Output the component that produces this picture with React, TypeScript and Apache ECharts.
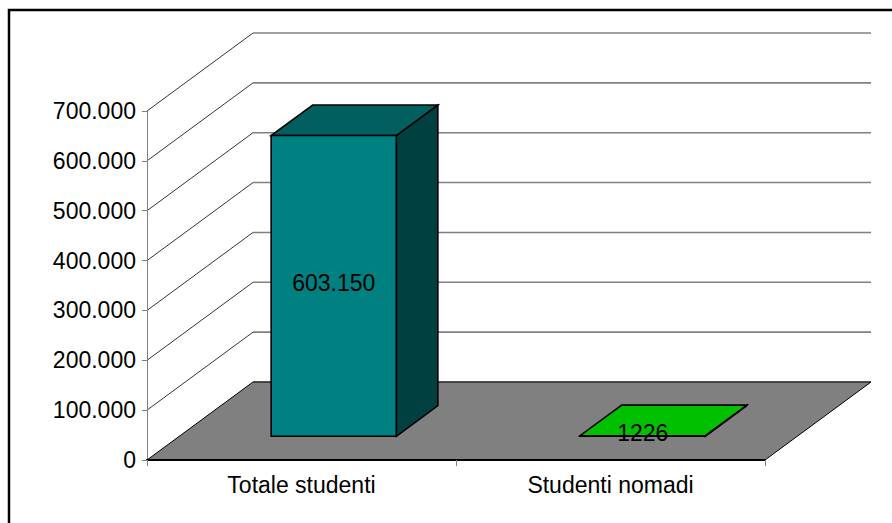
import React, { useEffect, useRef } from "react";
import * as echarts from "echarts";

const categories = ["Totale studenti", "Studenti nomadi"];
const values = [603150, 1226];
const valueLabels = ["603.150", "1226"];
const frontColors = ["#008080", "#00C000"];
const topColors = ["#006060", "#00C000"];
const sideColors = ["#004040", "#006000"];
const yTicks = [0, 100000, 200000, 300000, 400000, 500000, 600000, 700000];

const DEPTH = [106, -78];
const F0 = 0.304;
const F1 = 0.696;
const BAR_RATIO = 0.405;
const FONT = "Liberation Sans, Arial, sans-serif";
const FS = 23;

function fmtThousands(v: number): string {
  return String(v).replace(/\B(?=(\d{3})+(?!\d))/g, ".");
}

export default function App() {
  const ref = useRef<HTMLDivElement>(null);
  useEffect(() => {
    if (!ref.current) return;
    const chart = echarts.init(ref.current, undefined, { renderer: "svg" });
    const option: any = {
      animation: false,
      backgroundColor: "#ffffff",
      graphic: [
        {
          type: "rect",
          shape: { x: 9, y: 10, width: 1000, height: 1000 },
          style: { fill: "none", stroke: "#000", lineWidth: 2.5 },
          silent: true,
          z: 100,
        },
      ],
      grid: { left: 147, right: 127, top: 111, bottom: 63 },
      xAxis: {
        type: "category",
        data: categories,
        boundaryGap: true,
        z: 10,
        axisLine: { show: true, lineStyle: { color: "#000", width: 2 } },
        axisTick: { show: true, length: 6, alignWithLabel: false, lineStyle: { color: "#808080", width: 1 } },
        axisLabel: { fontSize: FS, color: "#000", fontFamily: FONT, margin: 13 },
        splitLine: { show: false },
      },
      yAxis: {
        type: "value",
        min: 0,
        max: 700000,
        interval: 100000,
        z: 10,
        axisLine: { show: true, lineStyle: { color: "#808080", width: 1 } },
        axisTick: { show: true, length: 5, lineStyle: { color: "#808080", width: 1 } },
        axisLabel: {
          fontSize: FS,
          color: "#000",
          fontFamily: FONT,
          margin: 11,
          formatter: (v: number) => fmtThousands(v),
        },
        splitLine: { show: false },
      },
      series: [
        {
          type: "custom",
          name: "walls",
          z: 1,
          silent: true,
          data: [[0, 0]],
          renderItem: (params: any, api: any) => {
            const cs = params.coordSys;
            const xl = cs.x;
            const xr = cs.x + cs.width;
            const children: any[] = [];
            yTicks.forEach((t) => {
              const y = api.coord([0, t])[1];
              if (t !== 0) {
                children.push({
                  type: "line",
                  shape: { x1: xl, y1: y, x2: xl + DEPTH[0], y2: y + DEPTH[1] },
                  style: { stroke: "#000", lineWidth: 0.8 },
                });
              }
              children.push({
                type: "line",
                shape: { x1: xl + DEPTH[0], y1: y + DEPTH[1], x2: xr + DEPTH[0], y2: y + DEPTH[1] },
                style: { stroke: "#808080", lineWidth: 1.6 },
              });
            });
            const y0 = api.coord([0, 0])[1];
            children.push({
              type: "polygon",
              shape: {
                points: [
                  [xl, y0],
                  [xr, y0],
                  [xr + DEPTH[0], y0 + DEPTH[1]],
                  [xl + DEPTH[0], y0 + DEPTH[1]],
                ],
              },
              style: { fill: "#808080", stroke: "#000", lineWidth: 1 },
            });
            return { type: "group", children };
          },
        },
        {
          type: "custom",
          name: "bars",
          z: 5,
          data: values.map((v, i) => [i, v]),
          encode: { x: 0, y: 1 },
          renderItem: (params: any, api: any) => {
            const i = params.dataIndex;
            const cat = api.value(0);
            const val = api.value(1);
            const base = api.coord([cat, 0]);
            const top = api.coord([cat, val]);
            const bw = api.size([1, 0])[0] * BAR_RATIO;
            const x0 = base[0] - bw / 2 + F0 * DEPTH[0];
            const x1 = x0 + bw;
            const yb = base[1] + F0 * DEPTH[1];
            const yt = top[1] + F0 * DEPTH[1];
            const ddx = (F1 - F0) * DEPTH[0];
            const ddy = (F1 - F0) * DEPTH[1];
            const stroke = { stroke: "#000", lineWidth: 1.6, lineJoin: "miter" };
            return {
              type: "group",
              children: [
                {
                  type: "polygon",
                  shape: { points: [[x1, yb], [x1 + ddx, yb + ddy], [x1 + ddx, yt + ddy], [x1, yt]] },
                  style: { fill: sideColors[i], ...stroke },
                },
                {
                  type: "polygon",
                  shape: { points: [[x0, yt], [x1, yt], [x1 + ddx, yt + ddy], [x0 + ddx, yt + ddy]] },
                  style: { fill: topColors[i], ...stroke },
                },
                {
                  type: "polygon",
                  shape: { points: [[x0, yb], [x1, yb], [x1, yt], [x0, yt]] },
                  style: { fill: frontColors[i], ...stroke },
                },
                {
                  type: "text",
                  style: {
                    text: valueLabels[i],
                    x: (x0 + x1) / 2,
                    y: (yb + yt) / 2 - 3,
                    align: "center",
                    verticalAlign: "middle",
                    fontSize: FS,
                    fontFamily: FONT,
                    fill: "#000",
                  },
                },
              ],
            };
          },
        },
      ],
    };
    chart.setOption(option);
    return () => chart.dispose();
  }, []);
  return (
    <div
      ref={ref}
      style={{ position: "absolute", left: 0, top: 0, width: 892, height: 523 }}
    />
  );
}
